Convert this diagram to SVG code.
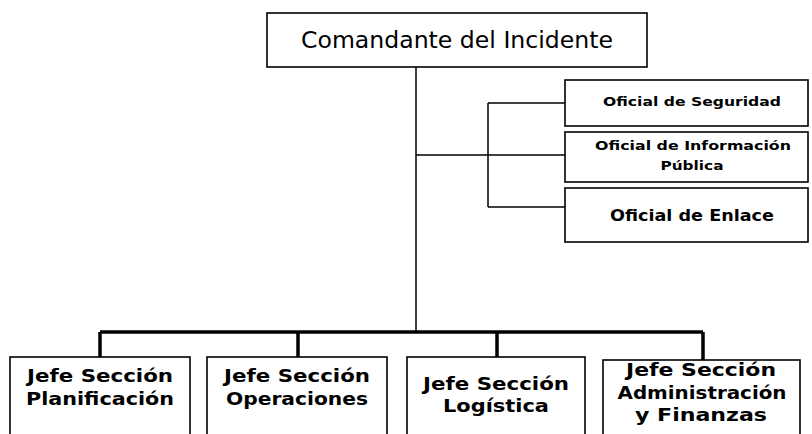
<svg xmlns="http://www.w3.org/2000/svg" width="812" height="434" viewBox="0 0 812 434">
<style>
.box{fill:#fff;stroke:#000;stroke-width:1.6}
.t{font-family:"DejaVu Sans","Liberation Sans",Arial,sans-serif;fill:#000;text-anchor:middle}
.big{font-size:23px}
.sm{font-size:13px;font-weight:bold}
.md{font-size:15px;font-weight:bold}
.bt{font-size:17.5px;font-weight:bold}
.ln{stroke:#000;stroke-width:1.5;fill:none}
.bus{stroke:#000;stroke-width:3.5;fill:none}
</style>
<rect width="812" height="434" fill="#fff"/>
<g id="connectors">
<path class="ln" d="M416 67V332"/>
<path class="ln" d="M416 155H565"/>
<path class="ln" d="M488 103V207M488 103H565M488 207H565"/>
<path class="bus" d="M100 332H703"/>
<path class="bus" d="M100 332V357M298 332V357M497 332V357M703 332V360"/>
</g>
<g id="comandante">
<rect class="box" x="267" y="13" width="380" height="54"/>
<text class="t big" x="457" y="48" textLength="312" lengthAdjust="spacingAndGlyphs">Comandante del Incidente</text>
</g>
<g id="seguridad">
<rect class="box" x="565" y="80" width="243" height="46"/>
<text class="t sm" x="692" y="106" textLength="178" lengthAdjust="spacingAndGlyphs">Oficial de Seguridad</text>
</g>
<g id="informacion">
<rect class="box" x="565" y="132" width="243" height="50"/>
<text class="t sm" x="693" y="150" textLength="196" lengthAdjust="spacingAndGlyphs">Oficial de Información</text>
<text class="t sm" x="692" y="170" textLength="63" lengthAdjust="spacingAndGlyphs">Pública</text>
</g>
<g id="enlace">
<rect class="box" x="565" y="188" width="243" height="54"/>
<text class="t md" x="692" y="221" textLength="164" lengthAdjust="spacingAndGlyphs">Oficial de Enlace</text>
</g>
<g id="planificacion">
<rect class="box" x="10" y="357" width="180" height="90"/>
<text class="t bt" x="100" y="382" textLength="146" lengthAdjust="spacingAndGlyphs">Jefe Sección</text>
<text class="t bt" x="100" y="405" textLength="148" lengthAdjust="spacingAndGlyphs">Planificación</text>
</g>
<g id="operaciones">
<rect class="box" x="207" y="357" width="180" height="90"/>
<text class="t bt" x="297" y="382" textLength="146" lengthAdjust="spacingAndGlyphs">Jefe Sección</text>
<text class="t bt" x="297" y="405" textLength="142" lengthAdjust="spacingAndGlyphs">Operaciones</text>
</g>
<g id="logistica">
<rect class="box" x="407" y="357" width="178" height="90"/>
<text class="t bt" x="496" y="390" textLength="146" lengthAdjust="spacingAndGlyphs">Jefe Sección</text>
<text class="t bt" x="496" y="412" textLength="106" lengthAdjust="spacingAndGlyphs">Logística</text>
</g>
<g id="administracion">
<rect class="box" x="603" y="360" width="197" height="90"/>
<text class="t bt" x="701" y="376" textLength="150" lengthAdjust="spacingAndGlyphs">Jefe Sección</text>
<text class="t bt" x="702" y="399" textLength="169" lengthAdjust="spacingAndGlyphs">Administración</text>
<text class="t bt" x="701" y="421" textLength="132" lengthAdjust="spacingAndGlyphs">y Finanzas</text>
</g>
</svg>
